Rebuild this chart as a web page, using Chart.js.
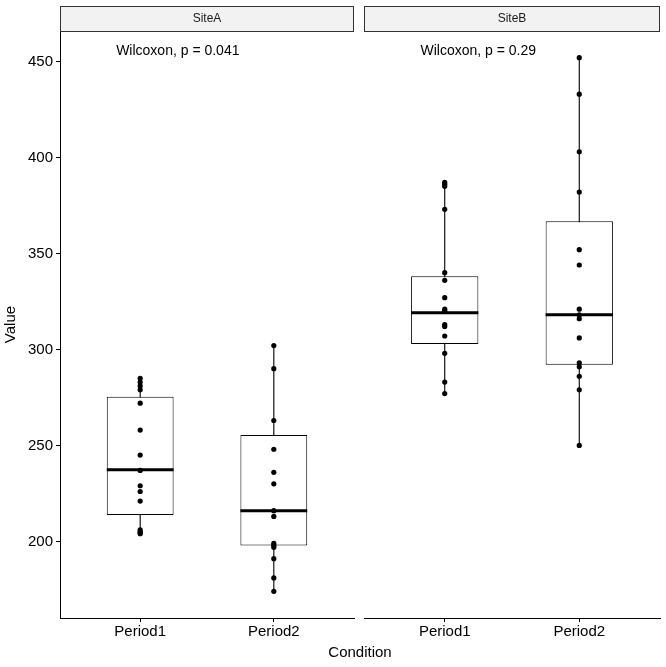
<!DOCTYPE html>
<html>
<head>
<meta charset="utf-8">
<script src="https://cdn.jsdelivr.net/npm/chart.js@4.4.1/dist/chart.umd.min.js"></script>
<style>
  html, body { margin: 0; padding: 0; background: #fff; }
  #wrap { position: relative; width: 666px; height: 667px; font-family: "Liberation Sans", Arial, sans-serif; }
  #chartA { position: absolute; left: 0; top: 0; }
  #chartB { position: absolute; left: 358px; top: 0; }
  #xTitle { position: absolute; left: 0; top: 643px; width: 720px; text-align: center; font-size: 15px; line-height: 18px; color: #000; }
</style>
</head>
<body>
<div id="wrap">
  <canvas id="chartA" width="358" height="667"></canvas>
  <canvas id="chartB" width="308" height="667"></canvas>
  <div id="xTitle">Condition</div>
</div>
<script>
// categories and facets
const categories = ['Period1', 'Period2'];
const sites = ['SiteA', 'SiteB'];

// raw values
const siteAPeriod1 = [285, 283, 281, 279, 272, 258, 245, 237, 229, 226, 221, 206, 205, 204.5, 204];
const siteAPeriod2 = [302, 290, 263, 248, 236, 230, 216, 213, 199, 198, 197, 191, 181, 174];
const siteBPeriod1 = [387, 386, 385, 373, 340, 336, 327, 321, 320, 313, 312, 307, 298, 283, 277];
const siteBPeriod2 = [452, 433, 403, 382, 352, 344, 321, 318, 316, 306, 293, 291, 286, 279, 250];

// box statistics (Period1, Period2)
const siteAQ1 = [213.7, 197.9];
const siteAMedian = [237.3, 216.0];
const siteAQ3 = [275.4, 255.4];
const siteBQ1 = [302.8, 292.0];
const siteBMedian = [319.1, 318.1];
const siteBQ3 = [338.2, 366.8];

const pLabels = ['Wilcoxon, p = 0.041', 'Wilcoxon, p = 0.29'];
const yTicks = [200, 250, 300, 350, 400, 450];
const yMin = 160.1, yMax = 465.9;
const labelX = 0.82, labelY = 455.2;
const boxHalf = 0.25;

Chart.defaults.font.family = '"Liberation Sans", Arial, sans-serif';
Chart.defaults.color = '#000';

const stripPlugin = {
  id: 'strip',
  afterDraw(chart, args, opts) {
    const ctx = chart.ctx, a = chart.chartArea;
    ctx.save();
    ctx.fillStyle = '#f2f2f2';
    ctx.fillRect(a.left, 6, a.right - a.left, 25);
    ctx.strokeStyle = '#333';
    ctx.lineWidth = 1;
    ctx.strokeRect(a.left + 0.5, 6.5, a.right - a.left - 1, 25);
    ctx.fillStyle = '#1a1a1a';
    ctx.font = '12px "Liberation Sans", Arial, sans-serif';
    ctx.textAlign = 'center';
    ctx.textBaseline = 'middle';
    ctx.fillText(opts.site, (a.left + a.right) / 2, 19);
    ctx.font = '14px "Liberation Sans", Arial, sans-serif';
    ctx.fillStyle = '#000';
    ctx.textAlign = 'left';
    ctx.fillText(opts.label, chart.scales.x.getPixelForValue(labelX), chart.scales.y.getPixelForValue(labelY));
    ctx.restore();
  }
};

function makePanel(id, site, groups, q1, med, q3, label, showY) {
  const whiskers = [], medians = [], points = [], boxes = [];
  groups.forEach((vals, i) => {
    const x = i + 1;
    whiskers.push({x: x, y: Math.min(...vals)}, {x: x, y: Math.max(...vals)}, {x: x + 0.5, y: null});
    medians.push({x: x - boxHalf, y: med[i]}, {x: x + boxHalf, y: med[i]}, {x: x + 0.5, y: null});
    boxes.push({x: x, y: [q1[i], q3[i]]});
    vals.forEach(v => points.push({x: x, y: v}));
  });

  return new Chart(document.getElementById(id), {
    type: 'bar',
    data: {
      datasets: [
        { type: 'line', data: whiskers, borderColor: '#000', borderWidth: 1.1, pointRadius: 0, spanGaps: false, order: 4 },
        { type: 'bar', data: boxes, backgroundColor: '#fff', borderColor: '#000', borderWidth: 1,
          borderSkipped: false, barPercentage: boxHalf * 2, categoryPercentage: 1, order: 3 },
        { type: 'line', data: medians, borderColor: '#000', borderWidth: 3, pointRadius: 0, spanGaps: false, order: 2 },
        { type: 'scatter', data: points, backgroundColor: '#000', borderWidth: 0, pointRadius: 2.6, order: 1 }
      ]
    },
    options: {
      responsive: false,
      animation: false,
      layout: { padding: showY ? { top: 31, right: 3, left: 0, bottom: 0 } : { top: 31, right: 6, left: 6, bottom: 0 } },
      plugins: { legend: { display: false }, tooltip: { enabled: false }, strip: { site: site, label: label } },
      scales: {
        x: {
          type: 'linear', min: 0.4, max: 2.6, offset: false,
          afterBuildTicks: s => { s.ticks = categories.map((c, i) => ({ value: i + 1 })); },
          afterFit: s => { s.height = 49; },
          ticks: { callback: v => categories[v - 1], font: { size: 15 }, color: '#000', padding: 1, maxRotation: 0 },
          grid: { drawOnChartArea: false, offset: false, tickLength: 4, color: '#000' },
          border: { display: true, color: '#000', width: 1 }
        },
        y: {
          display: showY,
          min: yMin, max: yMax,
          afterBuildTicks: s => { s.ticks = yTicks.map(v => ({ value: v })); },
          afterFit: s => { s.width = showY ? 60 : 0; },
          ticks: { font: { size: 15 }, color: '#000', padding: 3 },
          grid: { drawOnChartArea: false, tickLength: 4, color: '#000' },
          border: { display: true, color: '#000', width: 1 },
          title: { display: true, text: 'Value', font: { size: 15 }, color: '#000', padding: { top: 2, bottom: 0 } }
        }
      }
    },
    plugins: [stripPlugin]
  });
}

makePanel('chartA', sites[0], [siteAPeriod1, siteAPeriod2], siteAQ1, siteAMedian, siteAQ3, pLabels[0], true);
makePanel('chartB', sites[1], [siteBPeriod1, siteBPeriod2], siteBQ1, siteBMedian, siteBQ3, pLabels[1], false);
</script>
</body>
</html>
